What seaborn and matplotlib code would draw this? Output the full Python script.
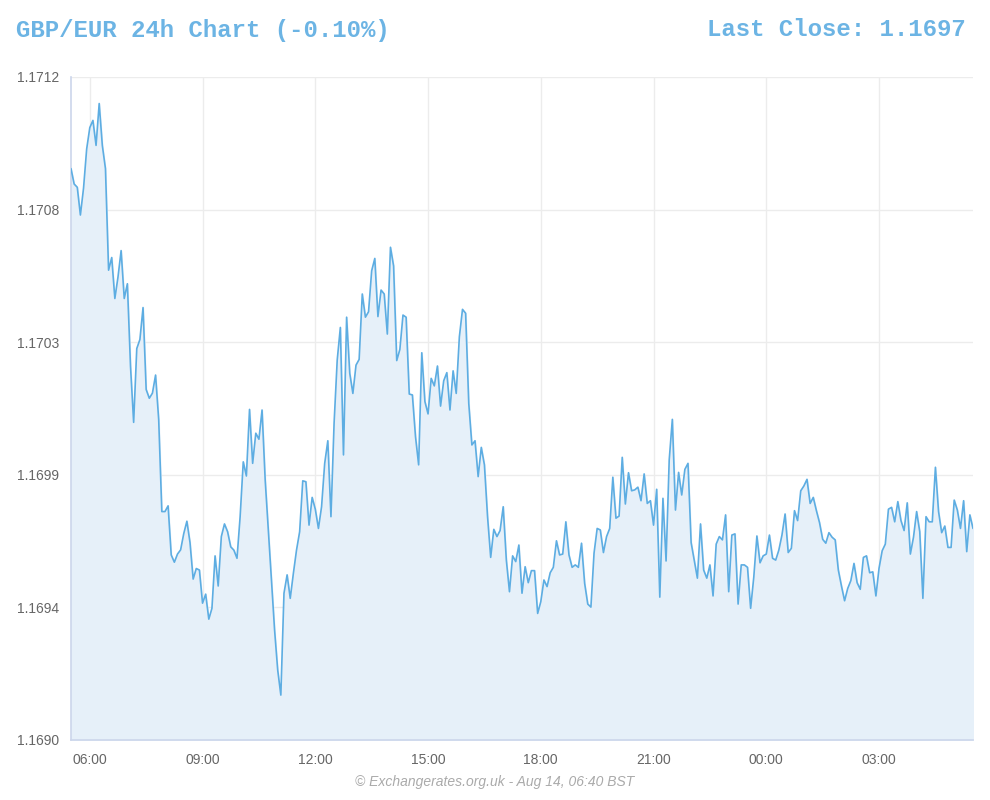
import pandas as pd
import numpy as np
import seaborn as sns
import matplotlib.pyplot as plt
import matplotlib.dates as mdates

# GBP/EUR rate, one reading every 5 minutes over 24h
start_time = '2024-08-13 05:30'
step = '5min'
rate = [
    1.170896, 1.170845, 1.170834, 1.170742, 1.170831, 1.170961, 1.171032, 1.171056, 1.170973, 1.171112,
    1.170973, 1.170896, 1.170559, 1.170601, 1.170465, 1.170536, 1.170624, 1.170465, 1.170514, 1.170240,
    1.170054, 1.170299, 1.170329, 1.170435, 1.170163, 1.170134, 1.170151, 1.170211, 1.170063, 1.169758,
    1.169758, 1.169777, 1.169614, 1.169590, 1.169617, 1.169631, 1.169685, 1.169726, 1.169655, 1.169534,
    1.169569, 1.169564,
    1.169454, 1.169484, 1.169401, 1.169437, 1.169611, 1.169511, 1.169675, 1.169717, 1.169691, 1.169641,
    1.169630, 1.169603, 1.169741, 1.169923, 1.169876, 1.170097, 1.169918, 1.170018, 1.169998, 1.170095,
    1.169863, 1.169697, 1.169531, 1.169365, 1.169232, 1.169149, 1.169487, 1.169548, 1.169470, 1.169553,
    1.169630, 1.169691, 1.169860, 1.169857, 1.169713, 1.169805, 1.169766, 1.169702, 1.169774, 1.169918,
    1.169993,
    1.169741, 1.170051, 1.170261, 1.170369, 1.169946, 1.170403, 1.170217, 1.170150, 1.170244, 1.170263,
    1.170480, 1.170403, 1.170421, 1.170557, 1.170598, 1.170405, 1.170493, 1.170480, 1.170347, 1.170635,
    1.170573, 1.170259, 1.170296, 1.170410, 1.170403, 1.170148, 1.170145, 1.170006, 1.169913, 1.170285,
    1.170123, 1.170082, 1.170200, 1.170175, 1.170241, 1.170108, 1.170192, 1.170219, 1.170095, 1.170225,
    1.170150, 1.170338,
    1.170429, 1.170416, 1.170117, 1.169979, 1.169993, 1.169874, 1.169971, 1.169913, 1.169741, 1.169606,
    1.169699, 1.169675, 1.169695, 1.169774, 1.169597, 1.169492, 1.169611, 1.169592, 1.169647, 1.169487,
    1.169575, 1.169522, 1.169562, 1.169562, 1.169420, 1.169459, 1.169531, 1.169509, 1.169555, 1.169573,
    1.169661, 1.169614, 1.169617, 1.169724, 1.169614, 1.169573, 1.169581, 1.169573, 1.169653, 1.169520,
    1.169451, 1.169441,
    1.169620, 1.169702, 1.169697, 1.169622, 1.169675, 1.169702, 1.169872, 1.169736, 1.169743, 1.169938,
    1.169783, 1.169887, 1.169827, 1.169830, 1.169839, 1.169794, 1.169883, 1.169785, 1.169794, 1.169713,
    1.169832, 1.169474, 1.169802, 1.169594, 1.169929, 1.170064, 1.169763, 1.169888, 1.169813, 1.169898,
    1.169918, 1.169655, 1.169597, 1.169537, 1.169717, 1.169564, 1.169537, 1.169581, 1.169478, 1.169650,
    1.169675,
    1.169664, 1.169747, 1.169492, 1.169680, 1.169684, 1.169451, 1.169581, 1.169581, 1.169573, 1.169437,
    1.169540, 1.169677, 1.169588, 1.169611, 1.169617, 1.169680, 1.169603, 1.169597, 1.169630, 1.169680,
    1.169750, 1.169622, 1.169636, 1.169761, 1.169728, 1.169827, 1.169843, 1.169865, 1.169785, 1.169805,
    1.169761, 1.169721, 1.169666, 1.169653, 1.169688, 1.169673, 1.169664, 1.169564, 1.169511, 1.169462,
    1.169503,
    1.169529, 1.169586, 1.169522, 1.169500, 1.169606, 1.169611, 1.169555, 1.169558, 1.169478, 1.169570,
    1.169628, 1.169650, 1.169766, 1.169772, 1.169724, 1.169791, 1.169728, 1.169695, 1.169787, 1.169617,
    1.169673, 1.169758, 1.169691, 1.169470, 1.169741, 1.169724, 1.169724, 1.169905, 1.169758, 1.169688,
    1.169710, 1.169639, 1.169639, 1.169796, 1.169763, 1.169702, 1.169794, 1.169625, 1.169747, 1.169702,
]
y_ticks = [1.1690, 1.16944, 1.16988, 1.17032, 1.17076, 1.1712]
title_left = 'GBP/EUR 24h Chart (-0.10%)'
title_right = 'Last Close: 1.1697'
footer = '\u00a9 Exchangerates.org.uk - Aug 14, 06:40 BST'

df = pd.DataFrame({'time': pd.date_range(start_time, periods=len(rate), freq=step),
                   'rate': rate})

sns.set_style('white')
plt.rcParams['font.family'] = ['Liberation Sans', 'DejaVu Sans']

line_col = '#5dade2'
fig = plt.figure(figsize=(9.9, 8), dpi=100)
ax = fig.add_axes([71 / 990, 60 / 800, 902 / 990, 663 / 800])

ax.fill_between(df['time'], df['rate'], y_ticks[0], color='#e6f0f9', zorder=1)
sns.lineplot(data=df, x='time', y='rate', ax=ax, color=line_col, linewidth=1.2, zorder=3)

ax.set_xlim(df['time'].iloc[0], df['time'].iloc[-1])
ax.set_ylim(y_ticks[0], y_ticks[-1])
ax.set_yticks(y_ticks)
ax.set_yticklabels(['%.4f' % v for v in y_ticks])
ax.xaxis.set_major_locator(mdates.HourLocator(byhour=range(0, 24, 3)))
ax.xaxis.set_major_formatter(mdates.DateFormatter('%H:%M'))

ax.grid(True, color='#ececec', linewidth=1)
ax.set_axisbelow(True)
ax.set_xlabel('')
ax.set_ylabel('')
ax.tick_params(axis='y', length=6, color='#e6e6e6', labelsize=10, labelcolor='#666666', pad=2.5)
ax.tick_params(axis='x', length=0, labelsize=10, labelcolor='#666666', pad=9.5)
for s in ['top', 'right']:
    ax.spines[s].set_visible(False)
ax.spines['left'].set_color('#ccd6eb')
ax.spines['bottom'].set_color('#ccd6eb')
ax.spines['left'].set_linewidth(1.2)
ax.spines['bottom'].set_linewidth(1.2)

fig.text(16 / 990, 1 - 30 / 800, title_left, family='Liberation Mono', weight='bold',
         fontsize=17.3, color='#6cb4e4', ha='left', va='center')
fig.text(966 / 990, 1 - 30 / 800, title_right, family='Liberation Mono', weight='bold',
         fontsize=17.3, color='#6cb4e4', ha='right', va='center')
fig.text(495 / 990, 1 - 782 / 800, footer, style='italic', fontsize=10,
         color='#aaaaaa', ha='center', va='center')

plt.savefig('out.png', dpi=100)
